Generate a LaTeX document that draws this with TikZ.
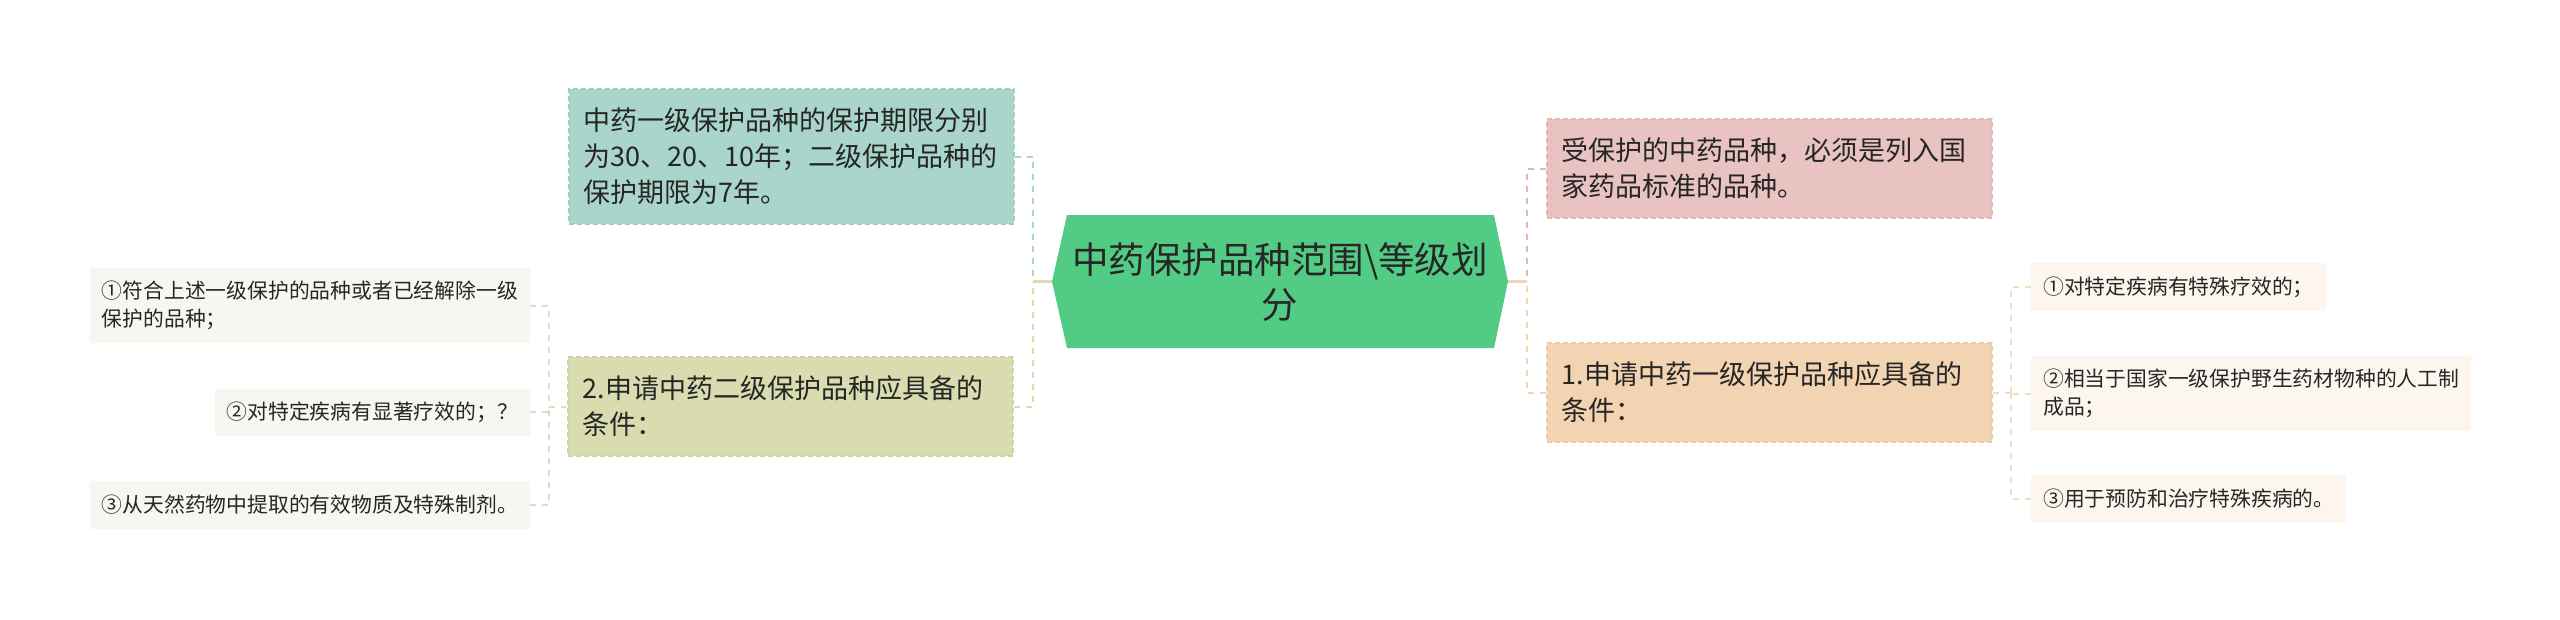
\documentclass[tikz,border=0pt]{standalone}
\usepackage{fontspec}
\setmainfont{Noto Sans CJK SC}
\usetikzlibrary{calc}
\definecolor{txt}{HTML}{262626}
\definecolor{rootfill}{HTML}{52CC84}
\definecolor{tealfill}{HTML}{A9D5CB}
\definecolor{tealline}{HTML}{A0CEC4}
\definecolor{olivefill}{HTML}{D8DCAF}
\definecolor{oliveline}{HTML}{CED3A2}
\definecolor{pinkfill}{HTML}{E9C2C2}
\definecolor{pinkline}{HTML}{E0B8BA}
\definecolor{peachfill}{HTML}{F3D4B2}
\definecolor{peachline}{HTML}{ECCAA5}
\definecolor{leaffillL}{HTML}{F6F7F0}
\definecolor{leaffillR}{HTML}{FDF6EE}
\definecolor{linkL}{HTML}{DCDFC6}
\definecolor{linkR}{HTML}{F1DCC4}
\tikzset{
  midbox/.style={rectangle, anchor=west, text width=415pt, align=left,
    inner xsep=15pt, inner ysep=0pt, minimum height=99pt, text=txt,
    line width=1.5pt, dash pattern=on 5pt off 3pt,
    font=\fontsize{27}{36}\selectfont},
  leafbox/.style={rectangle, align=left, inner xsep=12pt, inner ysep=0pt,
    minimum height=48pt, text=txt, font=\fontsize{20.8}{27.5}\selectfont},
  link/.style={line width=2pt, dash pattern=on 6pt off 6pt},
  solidlink/.style={line width=2.5pt},
}
\begin{document}
\begin{tikzpicture}[x=1pt,y=-1pt]
\useasboundingbox (0,0) rectangle (2560,619);
\fill[white] (0,0) rectangle (2560,619);

% root hexagon
\coordinate (rootW) at (1052,281.5);
\coordinate (rootE) at (1508,281.5);
\fill[rootfill] (rootW) -- (1067,215) -- (1494,215) -- (rootE) -- (1494,348) -- (1067,348) -- cycle;
\node[text=txt, align=center, font=\fontsize{36.5}{45}\selectfont] (root) at (1280,282)
  {中药保护品种范围\textbackslash 等级划\\分};

% junctions
\coordinate (jL) at (1033,281.5);
\coordinate (jR) at (1527,281.5);
\coordinate (jLL) at (549,406.5);
\coordinate (jRR) at (2011,392.5);

% first level boxes
\node[midbox, fill=tealfill, draw=tealline, minimum height=135pt] (teal) at (568,156.5)
  {中药一级保护品种的保护期限分别\\为30、20、10年；二级保护品种的\\保护期限为7年。};
\node[midbox, fill=olivefill, draw=oliveline] (olive) at (567,406.5)
  {2.申请中药二级保护品种应具备的\\条件：};
\node[midbox, fill=pinkfill, draw=pinkline] (pink) at (1546,168.5)
  {受保护的中药品种，必须是列入国\\家药品标准的品种。};
\node[midbox, fill=peachfill, draw=peachline] (peach) at (1546,392.5)
  {1.申请中药一级保护品种应具备的\\条件：};

% left leaves
\node[leafbox, fill=leaffillL, anchor=east, minimum height=75pt] (L1) at (530,305.5)
  {①符合上述一级保护的品种或者已经解除一级\\保护的品种；};
\node[leafbox, fill=leaffillL, anchor=east, minimum height=47pt] (L2) at (530,412)
  {②对特定疾病有显著疗效的；？};
\node[leafbox, fill=leaffillL, anchor=east] (L3) at (530,504.5)
  {③从天然药物中提取的有效物质及特殊制剂。};

% right leaves
\node[leafbox, fill=leaffillR, anchor=west] (R1) at (2031,287)
  {①对特定疾病有特殊疗效的；};
\node[leafbox, fill=leaffillR, anchor=west, minimum height=75pt] (R2) at (2031,393.5)
  {②相当于国家一级保护野生药材物种的人工制\\成品；};
\node[leafbox, fill=leaffillR, anchor=west] (R3) at (2031,499)
  {③用于预防和治疗特殊疾病的。};

% connectors root -> first level
\draw[link, draw=tealfill] (teal.east) -| (jL);
\draw[link, draw=olivefill] (olive.east) -| (jL);
\draw[solidlink, draw=olivefill] (rootW) -- (jL);
\draw[link, draw=pinkline] (pink.west) -| (jR);
\draw[link, draw=peachfill] (peach.west) -| (jR);
\draw[solidlink, draw=peachfill] (rootE) -- (jR);

% connectors to leaves
\draw[link, draw=linkL] (olive.west) -- (jLL);
\draw[link, draw=linkL] (L1.east) -| (jLL);
\draw[link, draw=linkL] (L2.east) -| (jLL);
\draw[link, draw=linkL] (L3.east) -| (jLL);
\draw[link, draw=linkR] (peach.east) -- (jRR);
\draw[link, draw=linkR] (R1.west) -| (jRR);
\draw[link, draw=linkR] (R2.west) -| (jRR);
\draw[link, draw=linkR] (R3.west) -| (jRR);
\end{tikzpicture}
\end{document}
